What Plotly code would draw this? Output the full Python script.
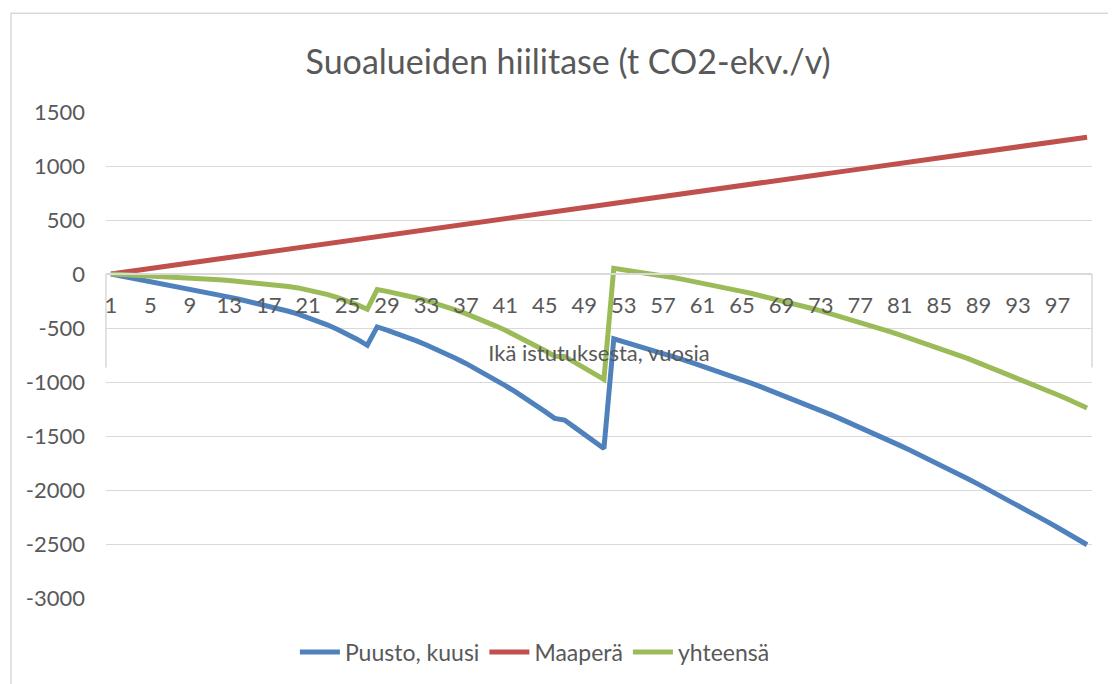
import plotly.graph_objects as go

ages = list(range(1, 101))
tick_ages = list(range(1, 101, 4))

maapera = [0, 13, 26, 38, 51, 64, 77, 90, 102, 115, 128, 141, 154, 166, 179, 192, 205, 218, 230, 243,
           256, 269, 282, 294, 307, 320, 333, 346, 358, 371, 384, 397, 410, 422, 435, 448, 461, 474, 486, 499,
           512, 525, 538, 550, 563, 576, 589, 602, 614, 627, 640, 653, 666, 678, 691, 704, 717, 730, 742, 755,
           768, 781, 794, 806, 819, 832, 845, 858, 870, 883, 896, 909, 922, 934, 947, 960, 973, 986, 998, 1011,
           1024, 1037, 1050, 1062, 1075, 1088, 1101, 1114, 1126, 1139, 1152, 1165, 1178, 1190, 1203, 1216, 1229, 1242, 1254, 1267]

puusto = [0, -17, -34, -51, -68, -86, -104, -122, -140, -158, -176, -195, -214, -234, -254, -275, -297, -320, -345, -372,
          -402, -436, -473, -513, -557, -606, -660, -490, -519, -550, -584, -619, -657, -696, -738, -782, -828, -876, -926, -979,
          -1033, -1090, -1148, -1209, -1272, -1337, -1352, -1418, -1484, -1550, -1615, -600, -626, -652, -679, -706, -734, -763, -792, -822,
          -852, -883, -915, -947, -980, -1013, -1047, -1082, -1117, -1153, -1189, -1226, -1264, -1302, -1341, -1380, -1420, -1461, -1502, -1544,
          -1587, -1630, -1673, -1718, -1762, -1808, -1854, -1900, -1948, -1996, -2044, -2093, -2143, -2193, -2244, -2295, -2347, -2400, -2453, -2507]

yhteensa = [0, -4, -8, -13, -17, -22, -27, -32, -38, -43, -48, -54, -60, -68, -75, -83, -92, -102, -115, -129,
            -146, -167, -191, -219, -250, -286, -327, -144, -161, -179, -200, -222, -247, -274, -303, -334, -367, -402, -440, -480,
            -521, -565, -610, -659, -709, -761, -763, -816, -870, -923, -975, 53, 40, 26, 12, -2, -17, -33, -50, -67,
            -84, -102, -121, -141, -161, -181, -202, -224, -247, -270, -293, -317, -342, -368, -394, -420, -447, -475, -504, -533,
            -563, -593, -623, -656, -687, -720, -753, -786, -822, -857, -892, -928, -965, -1003, -1041, -1079, -1118, -1158, -1199, -1240]

series_names = ["Puusto, kuusi", "Maaperä", "yhteensä"]
series_colors = ["#4F81BD", "#C0504D", "#9BBB59"]
y_ticks = [1500, 1000, 500, 0, -500, -1000, -1500, -2000, -2500, -3000]
y_tick_text = ["1500", "1000", "500", "0", "-500", "-1000", "-1500", "-2000", "-2500", "-3000"]
y_min, y_max = -3000, 1500

FONT = "Lato"
GRAY = "#595959"
GRID = "#D9D9D9"

fig = go.Figure()
for name, vals, col in zip(series_names, [puusto, maapera, yhteensa], series_colors):
    fig.add_trace(go.Scatter(x=ages, y=vals, mode="lines", name=name,
                             line=dict(color=col, width=5)))

zero_pos = (0 - y_min) / (y_max - y_min)

W, H = 1108, 676
fig.update_layout(
    width=W, height=H,
    margin=dict(l=98, r=24, t=104, b=85),
    paper_bgcolor="white", plot_bgcolor="white",
    font=dict(family=FONT, color=GRAY, size=22),
    title=dict(text="Suoalueiden hiilitase (t CO2-ekv./v)", x=0.4686, xref="paper", xanchor="center",
               y=1 - 54 / H, yanchor="middle", font=dict(size=34, color=GRAY, family=FONT)),
    xaxis=dict(range=[0.5, 100.5], tickmode="array", tickvals=tick_ages, ticktext=[str(t) for t in tick_ages],
               showgrid=False, zeroline=False, showline=True, linecolor=GRID, linewidth=1.5,
               anchor="free", position=zero_pos, ticks="", ticklabelstandoff=12,
               tickfont=dict(size=22, color=GRAY),
               title=dict(text="Ikä istutuksesta, vuosia", standoff=27, font=dict(size=22, color=GRAY))),
    yaxis=dict(range=[y_min, y_max], tickmode="array", tickvals=y_ticks, ticktext=y_tick_text,
               showgrid=True, gridcolor=GRID,
               gridwidth=1.3, zeroline=False, showline=False, ticks="", ticklabelstandoff=20,
               tickfont=dict(size=22, color=GRAY)),
    showlegend=True,
    legend=dict(orientation="h", x=0.435, xanchor="center", y=-0.109, yanchor="middle",
                font=dict(size=23, color=GRAY), itemwidth=40, traceorder="normal"),
    shapes=[
        dict(type="rect", xref="paper", yref="paper", x0=-0.0963, x1=1.03, y0=-0.2, y1=1.2033,
             line=dict(color=GRID, width=1.5), fillcolor="rgba(0,0,0,0)", layer="below"),
        dict(type="line", xref="paper", yref="y", x0=0, x1=0, y0=0, y1=-865,
             line=dict(color=GRID, width=1.5), layer="below"),
        dict(type="line", xref="paper", yref="y", x0=1, x1=1, y0=0, y1=-865,
             line=dict(color=GRID, width=1.5), layer="below"),
    ],
)

fig.write_html("out.html")
